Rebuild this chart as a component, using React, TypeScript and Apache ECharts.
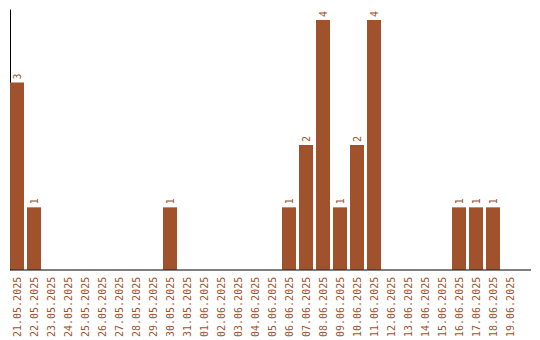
import React, { useEffect, useRef } from "react";
import * as echarts from "echarts";

const categories = [
  "21.05.2025", "22.05.2025", "23.05.2025", "24.05.2025", "25.05.2025",
  "26.05.2025", "27.05.2025", "28.05.2025", "29.05.2025", "30.05.2025",
  "31.05.2025", "01.06.2025", "02.06.2025", "03.06.2025", "04.06.2025",
  "05.06.2025", "06.06.2025", "07.06.2025", "08.06.2025", "09.06.2025",
  "10.06.2025", "11.06.2025", "12.06.2025", "13.06.2025", "14.06.2025",
  "15.06.2025", "16.06.2025", "17.06.2025", "18.06.2025", "19.06.2025",
];
const values = [
  3, 1, 0, 0, 0, 0, 0, 0, 0, 1,
  0, 0, 0, 0, 0, 0, 1, 2, 4, 1,
  2, 4, 0, 0, 0, 0, 1, 1, 1, 0,
];

const COLOR = "#a0522d";
const FONT = "DejaVu Sans Mono";

export default function App() {
  const ref = useRef<HTMLDivElement>(null);
  useEffect(() => {
    if (!ref.current) return;
    const chart = echarts.init(ref.current, null, { renderer: "svg" });
    chart.setOption({
      animation: false,
      grid: { left: 8.5, right: 21.5, top: 10, bottom: 70, containLabel: false },
      xAxis: {
        type: "category",
        data: categories,
        axisLine: { show: false },
        axisTick: { show: false },
        axisLabel: {
          interval: 0,
          rotate: 90,
          margin: 7,
          color: COLOR,
          fontFamily: FONT,
          fontSize: 10,
        },
      },
      yAxis: {
        type: "value",
        min: 0,
        max: 4.16,
        offset: -1.5,
        axisLine: { show: true, lineStyle: { color: "#000", width: 1 } },
        axisTick: { show: false },
        axisLabel: { show: false },
        splitLine: { show: false },
      },
      graphic: [
        {
          type: "line",
          shape: { x1: 10, y1: 270, x2: 531, y2: 270 },
          style: { stroke: "#000", lineWidth: 1 },
          z: 10,
        },
      ],
      series: [
        {
          type: "bar",
          data: values.map((v) => (v === 0 ? null : v)),
          barWidth: 14,
          itemStyle: { color: COLOR },
          label: {
            show: true,
            position: "top",
            rotate: 90,
            align: "left",
            verticalAlign: "middle",
            distance: 3,
            color: COLOR,
            fontFamily: FONT,
            fontSize: 10,
          },
        },
      ],
    });
    return () => chart.dispose();
  }, []);
  return <div ref={ref} style={{ width: 540, height: 340, position: "absolute", left: 0, top: 0 }} />;
}
